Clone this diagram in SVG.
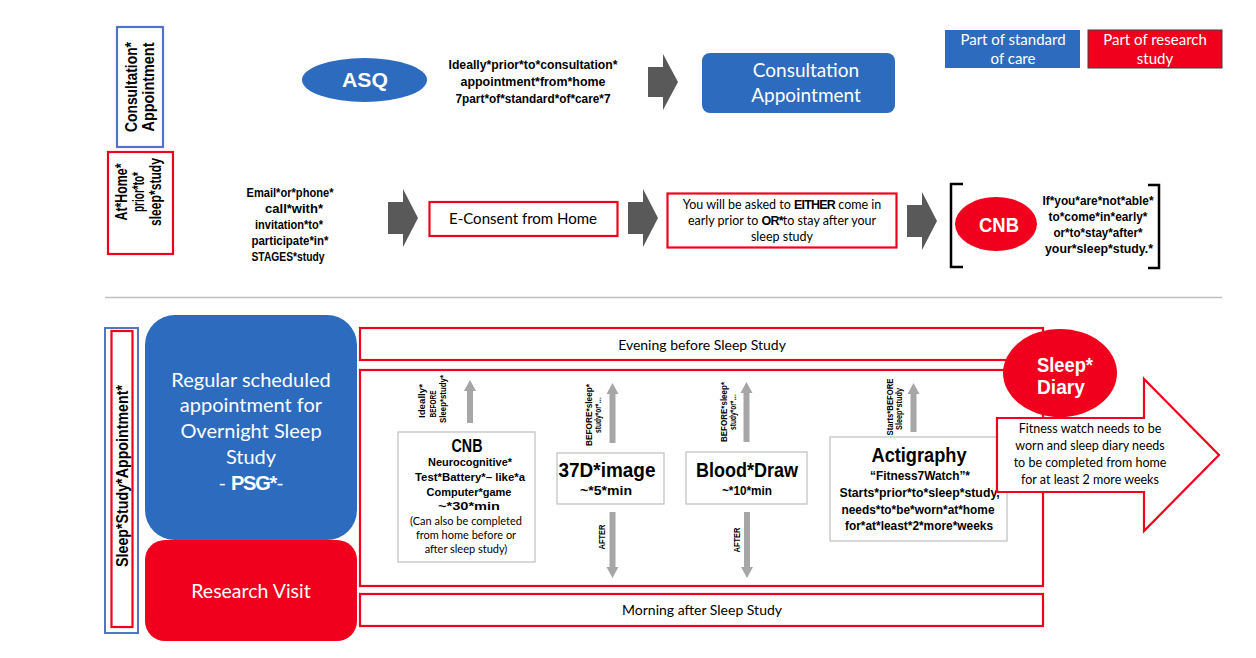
<svg xmlns="http://www.w3.org/2000/svg" width="1256" height="658" viewBox="0 0 1256 658">
<defs>
<style>
.cal{font-family:Lato,"Open Sans","Liberation Sans",sans-serif;}
.nb{font-family:"Liberation Sans",Arial,sans-serif;font-weight:bold;fill:#000;}
.w{fill:#fff;}
.mid{text-anchor:middle;}
.blk{fill:#595959;}
.lt{fill:#a6a6a6;}
.rbox{fill:#fff;stroke:#f0001c;stroke-width:2.2;}
.gbox{fill:#fff;stroke:#bfbfbf;stroke-width:1.2;}
.blue{fill:#2d6bbe;}
.red{fill:#f0001c;}
</style>
</defs>
<rect width="1256" height="658" fill="#fff"/>

<!-- Section labels -->
<g id="label-consultation">
<rect x="117" y="27" width="46" height="120" fill="#fff" stroke="#4f74c8" stroke-width="2.2"/>
<g transform="translate(137,87) rotate(-90)">
<text class="nb mid" font-size="16" x="0" y="0" textLength="90" lengthAdjust="spacingAndGlyphs">Consultation*</text>
<text class="nb mid" font-size="16" x="0" y="17" textLength="89" lengthAdjust="spacingAndGlyphs">Appointment</text>
</g>
</g>
<g id="label-athome">
<rect x="108" y="152" width="65" height="102" fill="#fff" stroke="#f0001c" stroke-width="2.2"/>
<g transform="translate(127,192) rotate(-90)">
<text class="nb mid" font-size="16" x="0" y="0" textLength="57" lengthAdjust="spacingAndGlyphs">At*Home*</text>
<text class="nb mid" font-size="16" x="0" y="17" textLength="40" lengthAdjust="spacingAndGlyphs">prior*to*</text>
<text class="nb mid" font-size="16" x="0" y="34" textLength="68" lengthAdjust="spacingAndGlyphs">sleep*study</text>
</g>
</g>
<g id="label-sleepstudy">
<rect x="105" y="328" width="33" height="305" fill="#fff" stroke="#4f74c8" stroke-width="2"/>
<rect x="111.5" y="331" width="21" height="296" fill="#fff" stroke="#f0001c" stroke-width="2.2"/>
<g transform="translate(128,476) rotate(-90)">
<text class="nb mid" font-size="16" x="0" y="0" textLength="182" lengthAdjust="spacingAndGlyphs">Sleep*Study*Appointment*</text>
</g>
</g>

<!-- Legend -->
<g id="legend-standard">
<rect x="945" y="30" width="135" height="38" class="blue"/>
<text class="cal w mid" font-size="15" x="1013" y="45">Part of standard</text>
<text class="cal w mid" font-size="15" x="1013" y="64">of care</text>
</g>
<g id="legend-research">
<rect x="1088" y="30" width="134" height="38" class="red" stroke="#404040" stroke-width="1"/>
<text class="cal w mid" font-size="15" x="1155" y="45">Part of research</text>
<text class="cal w mid" font-size="15" x="1155" y="64">study</text>
</g>

<!-- Top row -->
<g id="asq">
<ellipse cx="364.5" cy="80" rx="62.5" ry="22" class="blue"/>
<text class="nb w mid" font-size="21" x="365" y="87" textLength="46" lengthAdjust="spacingAndGlyphs" style="fill:#fff">ASQ</text>
</g>
<g id="asq-note">
<text class="nb mid" font-size="13" x="533" y="69" textLength="169" lengthAdjust="spacingAndGlyphs">Ideally*prior*to*consultation*</text>
<text class="nb mid" font-size="13" x="533" y="86" textLength="145" lengthAdjust="spacingAndGlyphs">appointment*from*home</text>
<text class="nb mid" font-size="13" x="533" y="103" textLength="155" lengthAdjust="spacingAndGlyphs">7part*of*standard*of*care*7</text>
</g>
<g id="consultation">
<rect x="702" y="53" width="193" height="60" rx="8" class="blue"/>
<text class="cal w mid" font-size="19" x="806" y="77">Consultation</text>
<text class="cal w mid" font-size="19" x="806" y="102">Appointment</text>
</g>

<!-- Middle row -->
<g id="invite">
<text class="nb mid" font-size="12" x="290" y="197" textLength="87" lengthAdjust="spacingAndGlyphs">Email*or*phone*</text>
<text class="nb mid" font-size="12" x="294" y="213" textLength="58" lengthAdjust="spacingAndGlyphs">call*with*</text>
<text class="nb mid" font-size="12" x="289" y="229" textLength="68" lengthAdjust="spacingAndGlyphs">invitation*to*</text>
<text class="nb mid" font-size="12" x="290" y="245" textLength="77" lengthAdjust="spacingAndGlyphs">participate*in*</text>
<text class="nb mid" font-size="12" x="288" y="261" textLength="73" lengthAdjust="spacingAndGlyphs">STAGES*study</text>
</g>
<g id="econsent">
<rect x="429.5" y="202" width="188" height="34" class="rbox"/>
<text class="cal mid" font-size="15" x="523" y="224">E-Consent from Home</text>
</g>
<g id="either">
<rect x="667.5" y="193.5" width="229" height="54" class="rbox"/>
<text class="cal mid" font-size="12.5" x="782" y="209">You will be asked to <tspan font-family="Liberation Sans,sans-serif" font-weight="bold" letter-spacing="-0.8">EITHER</tspan> come in</text>
<text class="cal mid" font-size="12.5" x="782" y="225">early prior to <tspan font-family="Liberation Sans,sans-serif" font-weight="bold" letter-spacing="-0.8">OR*</tspan>to stay after your</text>
<text class="cal mid" font-size="12.5" x="782" y="241">sleep study</text>
</g>
<g id="cnb-option">
<path d="M963,184 H951 V267 H963 M1148,185 H1159 V268 H1148" fill="none" stroke="#000" stroke-width="2.5"/>
<ellipse cx="996" cy="224" rx="41" ry="27" class="red"/>
<text class="nb mid" font-size="20" x="999" y="232" textLength="40" lengthAdjust="spacingAndGlyphs" style="fill:#fff">CNB</text>
<text class="nb mid" font-size="13" x="1098" y="205" textLength="111" lengthAdjust="spacingAndGlyphs">If*you*are*not*able*</text>
<text class="nb mid" font-size="13" x="1098" y="221" textLength="99" lengthAdjust="spacingAndGlyphs">to*come*in*early*</text>
<text class="nb mid" font-size="13" x="1098" y="237" textLength="89" lengthAdjust="spacingAndGlyphs">or*to*stay*after*</text>
<text class="nb mid" font-size="13" x="1099" y="253" textLength="108" lengthAdjust="spacingAndGlyphs">your*sleep*study.*</text>
</g>

<line x1="105" y1="297.5" x2="1222" y2="297.5" stroke="#bfbfbf" stroke-width="1.5"/>

<!-- Bottom section -->
<g id="psg">
<rect x="145" y="315" width="212" height="225" rx="30" class="blue"/>
<text class="cal w mid" font-size="20" x="251" y="387">Regular scheduled</text>
<text class="cal w mid" font-size="20" x="251" y="412">appointment for</text>
<text class="cal w mid" font-size="20" x="251" y="438">Overnight Sleep</text>
<text class="cal w mid" font-size="20" x="251" y="464">Study</text>
<text class="cal w mid" font-size="20" x="251" y="490">- <tspan font-family="Liberation Sans,sans-serif" font-weight="bold" letter-spacing="-1.2">PSG*</tspan>-</text>
</g>
<g id="research-visit">
<rect x="145" y="540" width="212" height="101" rx="20" class="red"/>
<text class="cal w mid" font-size="19.5" x="251" y="598">Research Visit</text>
</g>
<g id="evening">
<rect x="360" y="328" width="683" height="32" class="rbox"/>
<text class="cal mid" font-size="14" x="702" y="350">Evening before Sleep Study</text>
</g>
<g id="study-night">
<rect x="360" y="370" width="683" height="216" class="rbox"/>
</g>
<g id="morning">
<rect x="360" y="594" width="683" height="32" class="rbox"/>
<text class="cal mid" font-size="14" x="702" y="615">Morning after Sleep Study</text>
</g>

<g id="cnb-box">
<rect x="398" y="432" width="137" height="130" class="gbox"/>
<text class="nb mid" font-size="18" x="467" y="452" textLength="31" lengthAdjust="spacingAndGlyphs">CNB</text>
<text class="nb mid" font-size="11" x="470" y="466" textLength="84" lengthAdjust="spacingAndGlyphs">Neurocognitive*</text>
<text class="nb mid" font-size="11" x="470" y="481" textLength="110" lengthAdjust="spacingAndGlyphs">Test*Battery*– like*a</text>
<text class="nb mid" font-size="11" x="469" y="496" textLength="85" lengthAdjust="spacingAndGlyphs">Computer*game</text>
<text class="nb mid" font-size="11" x="469" y="510" textLength="62" lengthAdjust="spacingAndGlyphs">~*30*min</text>
<text class="cal mid" font-size="11" x="466" y="525">(Can also be completed</text>
<text class="cal mid" font-size="11" x="466" y="539">from home before or</text>
<text class="cal mid" font-size="11" x="466" y="553">after sleep study)</text>
</g>
<g id="image3d">
<rect x="557" y="453" width="107" height="51" class="gbox"/>
<text class="nb mid" font-size="20" x="607" y="477" textLength="97" lengthAdjust="spacingAndGlyphs">37D*image</text>
<text class="nb mid" font-size="12" x="606" y="495" textLength="52" lengthAdjust="spacingAndGlyphs">~*5*min</text>
</g>
<g id="blood">
<rect x="686" y="452" width="121" height="52" class="gbox"/>
<text class="nb mid" font-size="20" x="747" y="477" textLength="102" lengthAdjust="spacingAndGlyphs">Blood*Draw</text>
<text class="nb mid" font-size="12" x="747" y="495" textLength="50" lengthAdjust="spacingAndGlyphs">~*10*min</text>
</g>
<g id="actigraphy">
<rect x="830" y="437" width="177" height="104" class="gbox"/>
<text class="nb mid" font-size="21" x="919" y="462" textLength="95" lengthAdjust="spacingAndGlyphs">Actigraphy</text>
<text class="nb mid" font-size="12" x="920" y="480" textLength="100" lengthAdjust="spacingAndGlyphs">“Fitness7Watch”*</text>
<text class="nb mid" font-size="12" x="922" y="497" textLength="165" lengthAdjust="spacingAndGlyphs">Starts*prior*to*sleep*study,*</text>
<text class="nb mid" font-size="12" x="918" y="514" textLength="153" lengthAdjust="spacingAndGlyphs">needs*to*be*worn*at*home</text>
<text class="nb mid" font-size="12" x="919" y="530" textLength="148" lengthAdjust="spacingAndGlyphs">for*at*least*2*more*weeks</text>
</g>

<g id="followup-arrow">
<path d="M997,418 H1144 V379 L1219,455 L1144,531 V492 H997 Z" fill="#fff" stroke="#f0001c" stroke-width="2.2"/>
<text class="cal mid" font-size="12.5" x="1090" y="433">Fitness watch needs to be</text>
<text class="cal mid" font-size="12.5" x="1090" y="450">worn and sleep diary needs</text>
<text class="cal mid" font-size="12.5" x="1090" y="467">to be completed from home</text>
<text class="cal mid" font-size="12.5" x="1090" y="484">for at least 2 more weeks</text>
</g>
<g id="sleep-diary">
<ellipse cx="1060" cy="373" rx="57" ry="44" class="red"/>
<text class="nb mid" font-size="20" x="1065" y="372" textLength="56" lengthAdjust="spacingAndGlyphs" style="fill:#fff">Sleep*</text>
<text class="nb mid" font-size="20" x="1061" y="394" textLength="48" lengthAdjust="spacingAndGlyphs" style="fill:#fff">Diary</text>
</g>

<!-- Connectors -->
<g id="connectors">
<path class="blk" d="M648,67 H663 V54 L678,82 L663,110 V97 H648 Z"/>
<path class="blk" d="M388,202 H403 V189 L418,218 L403,247 V234 H388 Z"/>
<path class="blk" d="M628,202 H643 V189 L658,218 L643,247 V234 H628 Z"/>
<path class="blk" d="M907,205 H922 V192 L937,221 L922,250 V237 H907 Z"/>

<path class="lt" d="M467,423 V391 H464 L470,380 L476,391 H473 V423 Z"/>
<path class="lt" d="M609.5,443 V394 H606.5 L612.5,383 L618.5,394 H615.5 V443 Z"/>
<path class="lt" d="M743.5,442 V393 H740.5 L746.5,382 L752.5,393 H749.5 V442 Z"/>
<path class="lt" d="M910.5,432 V394 H907.5 L913.5,383 L919.5,394 H916.5 V432 Z"/>
<path class="lt" d="M609.5,512 V567 H606.5 L612.5,578 L618.5,567 H615.5 V512 Z"/>
<path class="lt" d="M744,512 V567 H741 L747,578 L753,567 H750 V512 Z"/>

<g transform="translate(425,401) rotate(-90)">
<text class="nb mid" font-size="9" x="0" y="0" textLength="34" lengthAdjust="spacingAndGlyphs">Ideally*</text>
<text class="nb mid" font-size="9" x="-3" y="11" textLength="27" lengthAdjust="spacingAndGlyphs">BEFORE</text>
<text class="nb mid" font-size="9" x="2" y="21" textLength="48" lengthAdjust="spacingAndGlyphs">Sleep*study*</text>
</g>
<g transform="translate(592,415) rotate(-90)">
<text class="nb mid" font-size="9" x="0" y="0" textLength="62" lengthAdjust="spacingAndGlyphs">BEFORE*sleep*</text>
<text class="nb mid" font-size="9" x="0" y="9" textLength="36" lengthAdjust="spacingAndGlyphs">study*or*…</text>
</g>
<g transform="translate(727,412) rotate(-90)">
<text class="nb mid" font-size="9" x="0" y="0" textLength="60" lengthAdjust="spacingAndGlyphs">BEFORE*sleep*</text>
<text class="nb mid" font-size="9" x="0" y="9" textLength="36" lengthAdjust="spacingAndGlyphs">study*or*…</text>
</g>
<g transform="translate(893,407) rotate(-90)">
<text class="nb mid" font-size="9" x="0" y="0" textLength="57" lengthAdjust="spacingAndGlyphs">Starts*BEFORE</text>
<text class="nb mid" font-size="9" x="-2" y="9" textLength="42" lengthAdjust="spacingAndGlyphs">Sleep*study</text>
</g>
<g transform="translate(605,537) rotate(-90)">
<text class="nb mid" font-size="9" x="0" y="0" textLength="25" lengthAdjust="spacingAndGlyphs">AFTER</text>
</g>
<g transform="translate(740,540) rotate(-90)">
<text class="nb mid" font-size="9" x="0" y="0" textLength="25" lengthAdjust="spacingAndGlyphs">AFTER</text>
</g>
</g>
</svg>
